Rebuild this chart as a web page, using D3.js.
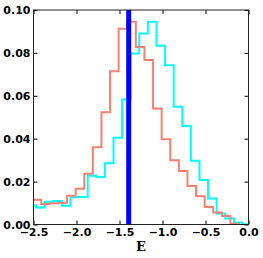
<!DOCTYPE html>
<html>
<head>
<meta charset="utf-8">
<script src="https://cdn.jsdelivr.net/npm/d3@7"></script>
<style>
  html, body { margin: 0; padding: 0; background: #fff; }
  svg { display: block; }
  .tick text { font-family: "DejaVu Sans", sans-serif; font-weight: bold; font-size: 11px; fill: #000; }
</style>
</head>
<body>
<svg id="chart" width="263" height="258"></svg>
<script>
// ---- data ----
const redEdges = [-2.51, -2.41, -2.31, -2.21, -2.11, -2.01, -1.91, -1.81, -1.71, -1.61, -1.51, -1.41, -1.31,
                  -1.21, -1.11, -1.01, -0.91, -0.81, -0.71, -0.61, -0.51, -0.41, -0.31, -0.21, -0.11];
const redValues = [0.0115, 0.0096, 0.0099, 0.0101, 0.0134, 0.0167, 0.0237, 0.0360, 0.0523, 0.0715, 0.0913, 0.0945,
                   0.0827, 0.0767, 0.0541, 0.0398, 0.0300, 0.0249, 0.0179, 0.0132, 0.0082, 0.0056, 0.0040, 0.0003];
const cyanEdges = [-2.57, -2.47, -2.37, -2.27, -2.17, -2.07, -1.97, -1.87, -1.77, -1.67, -1.57, -1.47, -1.37, -1.27,
                   -1.17, -1.07, -0.97, -0.87, -0.77, -0.67, -0.57, -0.47, -0.37, -0.27, -0.17, -0.07, 0.03];
const cyanValues = [0.0090, 0.0079, 0.0106, 0.0109, 0.0087, 0.0128, 0.0128, 0.0227, 0.0222, 0.0286, 0.0404, 0.0583, 0.0797,
                    0.0891, 0.0945, 0.0833, 0.0743, 0.0549, 0.0459, 0.0297, 0.0207, 0.0121, 0.0051, 0.0028, 0.0009, 0.0001];
const markerE = -1.393;
const xTicks = [-2.5, -2.0, -1.5, -1.0, -0.5, 0.0];
const yTicks = [0.00, 0.02, 0.04, 0.06, 0.08, 0.10];
const xLabel = "E";

// ---- layout ----
const svg = d3.select("#chart");
const L = 33.5, R = 248.5, T = 10, B = 224.5;
const x = d3.scaleLinear().domain([-2.5, 0.0]).range([L, R]);
const y = d3.scaleLinear().domain([0, 0.10]).range([B, T]);

svg.append("defs").append("clipPath").attr("id", "plotclip")
  .append("rect").attr("x", L).attr("y", T).attr("width", R - L).attr("height", B - T);

function stepPoints(edges, values) {
  const pts = [[edges[0], 0]];
  values.forEach((v, i) => { pts.push([edges[i], v]); pts.push([edges[i + 1], v]); });
  pts.push([edges[edges.length - 1], 0]);
  return pts;
}
const line = d3.line().x(d => x(d[0])).y(d => y(d[1]));

const plot = svg.append("g").attr("clip-path", "url(#plotclip)");
plot.append("path").attr("d", line(stepPoints(cyanEdges, cyanValues)))
  .attr("fill", "none").attr("stroke", "#00ffff").attr("stroke-width", 2).attr("stroke-linejoin", "miter");
plot.append("path").attr("d", line(stepPoints(redEdges, redValues)))
  .attr("fill", "none").attr("stroke", "#fa8072").attr("stroke-width", 2).attr("stroke-linejoin", "miter");
plot.append("line")
  .attr("x1", x(markerE)).attr("x2", x(markerE)).attr("y1", y(0)).attr("y2", y(0.10))
  .attr("stroke", "#0000ff").attr("stroke-width", 5);

// ---- axes ----
const tickLen = 4;
const gB = svg.append("g").attr("transform", `translate(0,${B})`)
  .call(d3.axisBottom(x).tickValues(xTicks).tickFormat(d3.format(".1f")).tickSizeInner(-tickLen).tickSizeOuter(0).tickPadding(4));
const gL = svg.append("g").attr("transform", `translate(${L},0)`)
  .call(d3.axisLeft(y).tickValues(yTicks).tickFormat(d3.format(".2f")).tickSizeInner(-tickLen).tickSizeOuter(0).tickPadding(3));
const gT = svg.append("g").attr("transform", `translate(0,${T})`)
  .call(d3.axisTop(x).tickValues(xTicks).tickFormat("").tickSizeInner(-tickLen).tickSizeOuter(0));
const gR = svg.append("g").attr("transform", `translate(${R},0)`)
  .call(d3.axisRight(y).tickValues(yTicks).tickFormat("").tickSizeInner(-tickLen).tickSizeOuter(0));
[gB, gL, gT, gR].forEach(g => {
  g.select(".domain").remove();
  g.selectAll(".tick line").attr("stroke", "#000").attr("stroke-width", 1);
});

svg.append("rect").attr("x", L).attr("y", T).attr("width", R - L).attr("height", B - T)
  .attr("fill", "none").attr("stroke", "#222").attr("stroke-width", 1);

svg.append("text").attr("x", (L + R) / 2).attr("y", 251)
  .attr("text-anchor", "middle")
  .style("font-family", "'DejaVu Serif', serif").style("font-weight", "bold").style("font-size", "13px")
  .text(xLabel);
</script>
</body>
</html>
